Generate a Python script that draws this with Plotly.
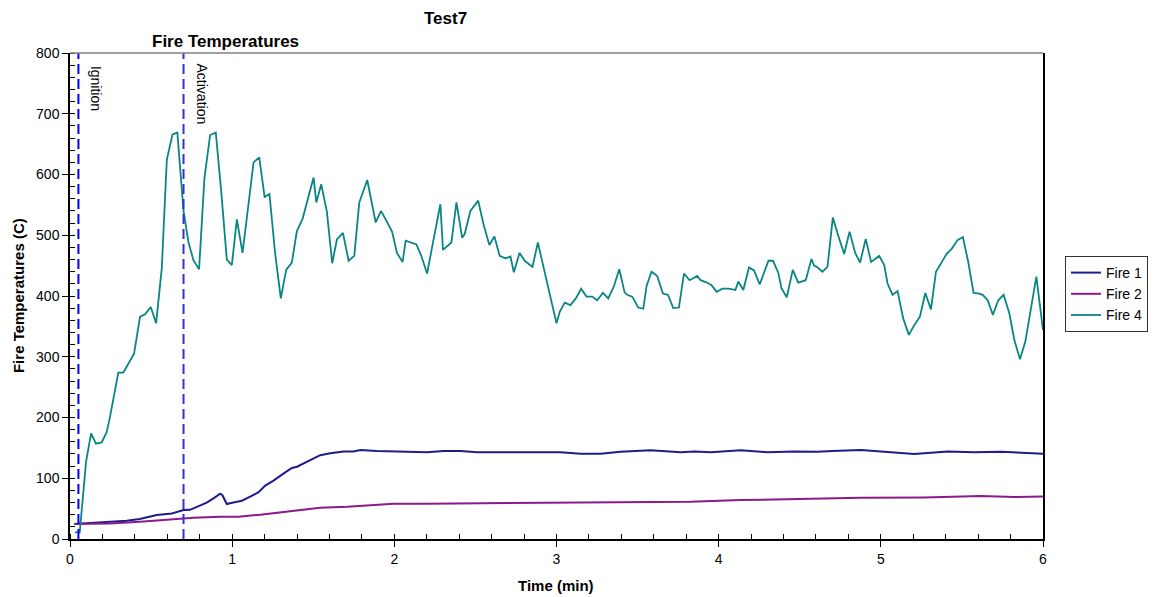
import plotly.graph_objects as go

# ---------------- data ----------------
fire4_t = [0.03, 0.06, 0.099, 0.130, 0.160, 0.196, 0.226, 0.243, 0.298, 0.329, 0.395, 0.432, 0.463,
           0.498, 0.531, 0.566, 0.597, 0.632, 0.662, 0.700, 0.730, 0.761, 0.796, 0.829, 0.864, 0.899,
           0.932, 0.967, 0.998, 1.029, 1.064, 1.097, 1.132, 1.167, 1.200, 1.230, 1.265, 1.300, 1.333,
           1.368, 1.399, 1.434, 1.471, 1.502, 1.519, 1.549, 1.584, 1.617, 1.646, 1.683, 1.718, 1.753,
           1.784, 1.833, 1.885, 1.918, 1.949, 1.986, 2.016, 2.051, 2.070, 2.136, 2.165, 2.202, 2.239,
           2.284, 2.300, 2.352, 2.383, 2.418, 2.434, 2.469, 2.517, 2.551, 2.586, 2.617, 2.650, 2.685,
           2.716, 2.737, 2.772, 2.804, 2.852, 2.885, 3.000, 3.020, 3.051, 3.086, 3.119, 3.152, 3.185,
           3.220, 3.251, 3.286, 3.319, 3.354, 3.387, 3.420, 3.436, 3.467, 3.504, 3.535, 3.556, 3.586,
           3.621, 3.656, 3.687, 3.720, 3.755, 3.786, 3.821, 3.868, 3.889, 3.920, 3.955, 3.988, 4.023,
           4.060, 4.103, 4.121, 4.152, 4.187, 4.218, 4.253, 4.307, 4.335, 4.368, 4.387, 4.420, 4.457,
           4.490, 4.537, 4.572, 4.588, 4.605, 4.640, 4.671, 4.704, 4.739, 4.774, 4.807, 4.842, 4.872,
           4.907, 4.940, 4.990, 5.021, 5.041, 5.072, 5.103, 5.138, 5.173, 5.206, 5.241, 5.274, 5.309,
           5.340, 5.370, 5.405, 5.438, 5.473, 5.506, 5.539, 5.572, 5.607, 5.628, 5.659, 5.691, 5.724,
           5.757, 5.792, 5.823, 5.858, 5.891, 5.926, 5.959, 6.000]
fire4_v = [11, 11, 127, 174, 157, 159, 176, 196, 274, 274, 305, 366, 370,
           382, 355, 446, 624, 666, 669, 540, 489, 459, 444, 594, 665, 669,
           574, 460, 451, 526, 471, 547, 620, 628, 563, 568, 470, 396, 443,
           455, 507, 527, 566, 595, 554, 584, 539, 454, 493, 504, 458, 466,
           554, 591, 521, 540, 525, 506, 471, 456, 491, 485, 467, 437, 489,
           551, 476, 488, 554, 496, 502, 540, 557, 517, 484, 498, 466, 462,
           465, 439, 471, 458, 448, 488, 355, 374, 389, 385, 396, 412, 399,
           399, 393, 405, 396, 416, 444, 406, 402, 399, 381, 379, 417, 440,
           433, 404, 402, 380, 381, 437, 426, 433, 426, 423, 418, 407, 412,
           412, 410, 424, 410, 447, 442, 419, 458, 458, 438, 413, 398, 443,
           422, 426, 461, 450, 448, 440, 448, 529, 498, 469, 506, 471, 455,
           494, 456, 466, 451, 421, 402, 408, 363, 336, 352, 366, 405, 378,
           440, 453, 469, 478, 492, 497, 456, 405, 404, 402, 393, 369, 393,
           402, 372, 328, 296, 325, 380, 432, 344]

fire1_t = [0.025, 0.206, 0.35, 0.43, 0.535, 0.628, 0.70, 0.74, 0.802, 0.843, 0.885, 0.926, 0.94,
           0.967, 1.008, 1.06, 1.111, 1.163, 1.204, 1.255, 1.307, 1.368, 1.40, 1.461, 1.543, 1.605,
           1.687, 1.749, 1.79, 1.893, 1.996, 2.098, 2.2, 2.305, 2.407, 2.51, 2.613, 2.818, 3.025,
           3.148, 3.272, 3.395, 3.580, 3.765, 3.85, 3.951, 4.136, 4.300, 4.465, 4.609, 4.70, 4.877,
           5.041, 5.206, 5.412, 5.576, 5.741, 5.947, 6.0]
fire1_v = [24.7, 27, 30, 33, 39.5, 42, 47.7, 48, 56, 60, 67, 74.6, 72,
           57.6, 60, 63, 69.6, 77, 88, 96, 106, 117, 119, 127, 138, 141,
           144, 144, 146.5, 145, 144, 144, 143, 145, 145, 143, 143, 143, 143,
           140.5, 140.5, 143.5, 146, 143, 144, 143, 146, 143, 144, 143.5, 145, 146.5,
           143.5, 140, 144, 143, 143.5, 140.5, 140.5]

fire2_t = [0.025, 0.247, 0.432, 0.556, 0.70, 0.761, 0.926, 1.04, 1.173, 1.296, 1.379, 1.543,
           1.708, 1.852, 1.996, 2.2, 2.407, 2.613, 3.025, 3.416, 3.827, 4.136, 4.548, 4.877,
           5.267, 5.617, 5.823, 6.0]
fire2_v = [24.7, 25.7, 28.5, 31, 33, 35, 36.7, 36.7, 40, 44, 46, 51.5,
           53, 56, 58, 58, 58.5, 59, 59.8, 61.5, 61.5, 64, 66, 68,
           68.5, 70.8, 69, 70]

event_t = [0.052, 0.70]
event_labels = ["Ignition", "Activation"]

# ---------------- figure ----------------
FONT = "Liberation Sans, Arial, sans-serif"
fig = go.Figure()
fig.add_trace(go.Scatter(x=fire1_t, y=fire1_v, mode="lines", name="Fire 1",
                         line=dict(color="#1c1c8c", width=2)))
fig.add_trace(go.Scatter(x=fire2_t, y=fire2_v, mode="lines", name="Fire 2",
                         line=dict(color="#8c1a8c", width=2)))
fig.add_trace(go.Scatter(x=fire4_t, y=fire4_v, mode="lines", name="Fire 4",
                         line=dict(color="#0a8585", width=1.8)))

dash_colors = ["#0000ff", "#3333cc"]
for t, c in zip(event_t, dash_colors):
    fig.add_shape(type="line", xref="x", yref="y", x0=t, x1=t, y0=0, y1=800,
                  line=dict(color=c, width=2, dash="10px,5px"))

label_pos = [(0.16, 741), (0.815, 733)]
for lab, (lx, ly) in zip(event_labels, label_pos):
    fig.add_annotation(x=lx, y=ly, xref="x", yref="y", text=lab, showarrow=False,
                       textangle=90, xanchor="center", yanchor="middle",
                       font=dict(family=FONT, size=14, color="black"))

# top border gray
fig.add_shape(type="line", xref="paper", yref="paper", x0=0, x1=1, y0=1, y1=1,
              line=dict(color="#808080", width=1.5))

def ann(x, y, text, size, angle=0):
    fig.add_annotation(x=x, y=y, xref="paper", yref="paper", text=text, showarrow=False,
                       textangle=angle, xanchor="center", yanchor="middle",
                       font=dict(family=FONT, size=size, color="black"))

ann(0.386, 1.072, "<b>Test7</b>", 17)
ann(0.160, 1.023, "<b>Fire Temperatures</b>", 17)
ann(-0.0534, 0.5, "<b>Fire Temperatures (C)</b>", 15, -90)
ann(0.4995, -0.0947, "<b>Time (min)</b>", 15)

fig.update_layout(
    width=1155, height=597,
    margin=dict(l=70, r=112, t=53, b=58),
    paper_bgcolor="white", plot_bgcolor="white",
    font=dict(family=FONT, size=14, color="black"),
    showlegend=True,
    legend=dict(xref="container", yref="container", x=1065/1155, y=1 - 256/597,
                xanchor="left", yanchor="top",
                bordercolor="#333333", borderwidth=1, bgcolor="white",
                font=dict(family=FONT, size=14, color="black"),
                tracegroupgap=0, itemwidth=30),
    xaxis=dict(range=[0, 6], dtick=1, tick0=0, showgrid=False, zeroline=False,
               showline=True, linecolor="black", linewidth=1.5,
               ticks="outside", ticklen=6, tickcolor="black",
               minor=dict(dtick=0.2, ticks="inside", ticklen=5, tickcolor="black"),
               tickfont=dict(family=FONT, size=14)),
    yaxis=dict(range=[0, 800], dtick=100, tick0=0, showgrid=False, zeroline=False,
               showline=True, linecolor="black", linewidth=1.5, mirror=True,
               ticks="outside", ticklen=6, tickcolor="black",
               minor=dict(dtick=20, ticks="inside", ticklen=5, tickcolor="black"),
               tickfont=dict(family=FONT, size=14)),
)

fig.write_html("out.html")
